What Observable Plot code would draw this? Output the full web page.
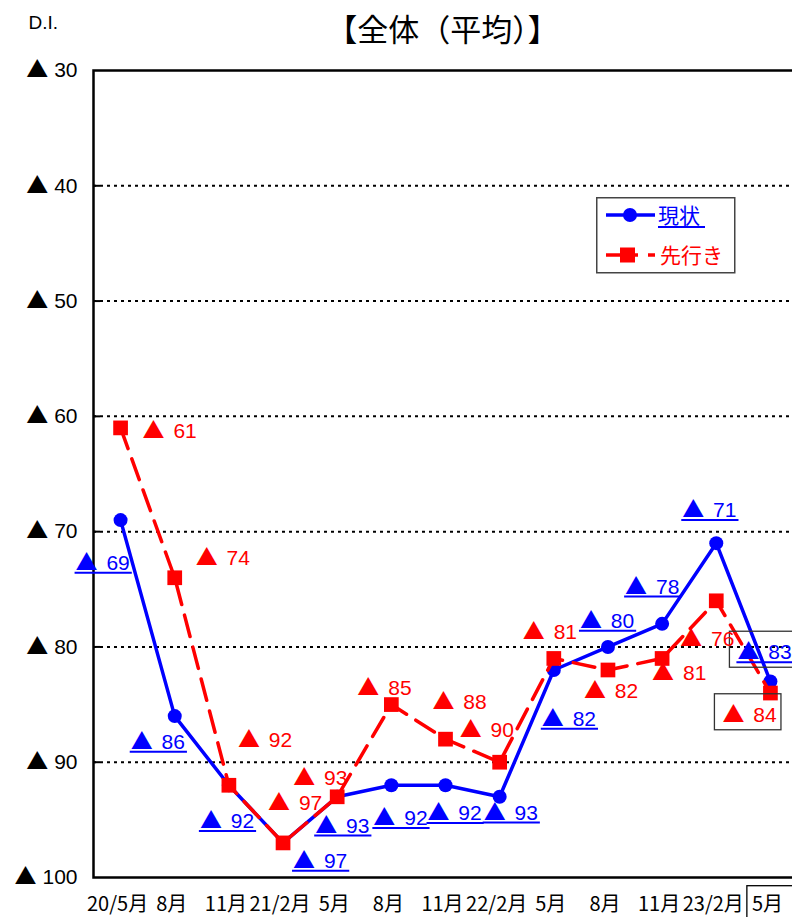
<!DOCTYPE html>
<html><head><meta charset="utf-8">
<script src="https://cdn.jsdelivr.net/npm/d3@7"></script>
<script src="https://cdn.jsdelivr.net/npm/@observablehq/plot@0.6"></script>
<style>
html,body{margin:0;padding:0;background:#fff;overflow:hidden;}
#wrap{position:relative;width:792px;height:917px;overflow:hidden;}
#legend{position:absolute;left:596px;top:197px;}
</style></head><body><div id="wrap"></div>
<script>
// ---- data ----
const categories = ["20/5月","8月","11月","21/2月","5月","8月","11月","22/2月","5月","8月","11月","23/2月","5月"];
const genjo = [69,86,92,97,93,92,92,93,82,80,78,71,83];      // 現状
const sakiyuki = [61,74,92,97,93,85,88,90,81,82,81,76,84];   // 先行き
const yTicks = [30,40,50,60,70,80,90,100];
const gridTicks = [40,50,60,70,80,90];
const title = "【全体（平均）】";
const unitLabel = "D.I.";
const seriesNames = ["現状","先行き"];

// ---- layout (label offsets in px) ----
const genjoDx = [-45,-44,-29,10,-22,-18,-18,-16,-12,-28,-37,-34,-33];
const genjoDy = [43,26,36,18,29,33,28,16,49,-26,-37,-33,-29];
const sakiDx = [22,21,9,-15,-44,-34,-13,-40,-31,-24,-10,-36,-48];
const sakiDy = [3,-19,-45,-40,-19,-16,-37,-32,-26,21,15,38,22];

const BLUE = "#0000ff", RED = "#ff0000";
const LAT = "'Liberation Sans', Arial, sans-serif";
const JP = "'Noto Sans CJK JP', sans-serif";

const data = categories.map((c, i) => ({i, cat: c, genjo: genjo[i], saki: sakiyuki[i]}));

const chart = Plot.plot({
  width: 792, height: 917,
  marginLeft: 93, marginRight: -5, marginTop: 70, marginBottom: 40,
  style: {fontFamily: LAT, background: "white", overflow: "visible"},
  x: {type: "linear", domain: [-0.5, 12.5], axis: null},
  y: {domain: [100, 30], axis: null},
  marks: [
    Plot.ruleY(gridTicks, {stroke: "black", strokeWidth: 2, strokeDasharray: "3,4"}),
    Plot.ruleY(gridTicks, {x1: -0.5, x2: -0.37, stroke: "black", strokeWidth: 2}),
    Plot.axisY({ticks: yTicks, tickSize: 0, tickPadding: 16, tickFormat: d => "▲ " + d, fontSize: 21, fill: "black", label: null}),
    Plot.axisX({ticks: d3.range(categories.length), tickSize: 0, tickPadding: 19, tickFormat: i => categories[i], fontSize: 20, fontFamily: JP, fill: "black", dx: -3, label: null}),
    Plot.frame({stroke: "black", strokeWidth: 2.5}),
    Plot.line(data, {x: "i", y: "genjo", stroke: BLUE, strokeWidth: 3.5}),
    Plot.dot(data, {x: "i", y: "genjo", r: 7, fill: BLUE, symbol: "circle"}),
    Plot.line(data, {x: "i", y: "saki", stroke: RED, strokeWidth: 3.5, strokeDasharray: "22,11"}),
    Plot.dot(data, {x: "i", y: "saki", r: 8.3, fill: RED, symbol: "square"}),
    ...data.map((d, i) => Plot.text([d], {x: "i", y: "genjo", text: e => "▲ " + e.genjo, dx: genjoDx[i], dy: genjoDy[i],
      textAnchor: "start", fill: BLUE, fontSize: 21, ariaDescription: i === data.length - 1 ? "genjo-label boxed" : "genjo-label"})),
    ...data.map((d, i) => Plot.text([d], {x: "i", y: "saki", text: e => "▲ " + e.saki, dx: sakiDx[i], dy: sakiDy[i],
      textAnchor: "start", fill: RED, fontSize: 21, ariaDescription: i === data.length - 1 ? "saki-label boxed" : "saki-label"})),
    Plot.text([title], {frameAnchor: "top", dy: -39, dx: -3, lineAnchor: "middle", fontSize: 31, fontFamily: JP, fontWeight: 400, fill: "black"}),
    Plot.text([unitLabel], {frameAnchor: "top-left", dx: -65, dy: -48, textAnchor: "start", lineAnchor: "middle", fontSize: 19, fill: "black"})
  ]
});
const wrap = document.getElementById("wrap");
wrap.appendChild(chart);

const svg = d3.select(chart);
// full-width triangle glyph
function bigTri(node, size, gap) {
  const t = node.textContent;
  if (!t.startsWith("▲")) return;
  node.textContent = "";
  d3.select(node).append("tspan").attr("font-family", JP).attr("font-size", size).text("▲");
  d3.select(node).append("tspan").attr("dx", gap).text(t.slice(1));
}
svg.selectAll('g[aria-label="y-axis tick label"] text').each(function () { bigTri(this, 22, 0); });
svg.selectAll('g[aria-description~="genjo-label"] text, g[aria-description~="saki-label"] text').each(function () { bigTri(this, 22, 3); });

// underlines for 現状 labels
svg.selectAll('g[aria-description~="genjo-label"] text').each(function () {
  const b = this.getBBox();
  const yy = b.y + b.height - 3;
  d3.select(this.parentNode).append("line")
    .attr("transform", this.getAttribute("transform"))
    .attr("x1", b.x - 1).attr("x2", b.x + b.width + 2)
    .attr("y1", yy).attr("y2", yy)
    .attr("stroke", BLUE).attr("stroke-width", 2);
});
// boxes around last labels
svg.selectAll('g[aria-description~="boxed"] text').each(function () {
  const b = this.getBBox();
  d3.select(this.parentNode).append("rect")
    .attr("transform", this.getAttribute("transform"))
    .attr("x", b.x - 8).attr("y", b.y - 2).attr("width", b.width + 12).attr("height", b.height + 4)
    .attr("fill", "none").attr("stroke", "#333").attr("stroke-width", 1.3);
});
// box around last x tick label
const xt = svg.selectAll('g[aria-label="x-axis tick label"] text').nodes();
if (xt.length) {
  const last = xt[xt.length - 1];
  const b = last.getBBox();
  d3.select(last.parentNode).append("rect")
    .attr("transform", last.getAttribute("transform"))
    .attr("x", b.x - 5).attr("y", b.y - 2).attr("width", b.width + 40).attr("height", b.height + 40)
    .attr("fill", "none").attr("stroke", "black").attr("stroke-width", 1.3);
}

// legend
const lg = d3.select(wrap).append("svg").attr("id", "legend").attr("width", 140).attr("height", 78);
lg.append("rect").attr("x", 0.75).attr("y", 0.75).attr("width", 138).attr("height", 75)
  .attr("fill", "white").attr("stroke", "#444").attr("stroke-width", 1.5);
lg.append("line").attr("x1", 10).attr("x2", 59).attr("y1", 18).attr("y2", 18).attr("stroke", BLUE).attr("stroke-width", 3.5);
lg.append("circle").attr("cx", 34).attr("cy", 18).attr("r", 7).attr("fill", BLUE);
lg.append("text").attr("x", 62).attr("y", 18).attr("dy", "0.36em").attr("fill", BLUE)
  .style("font-family", JP).style("font-size", "21px").text(seriesNames[0]);
lg.append("line").attr("x1", 62).attr("x2", 109).attr("y1", 30).attr("y2", 30).attr("stroke", BLUE).attr("stroke-width", 2);
lg.append("line").attr("x1", 10).attr("x2", 42).attr("y1", 58).attr("y2", 58).attr("stroke", RED).attr("stroke-width", 3.5);
lg.append("rect").attr("x", 24).attr("y", 50.5).attr("width", 15).attr("height", 15).attr("fill", RED);
lg.append("line").attr("x1", 52).attr("x2", 59).attr("y1", 58).attr("y2", 58).attr("stroke", RED).attr("stroke-width", 3.5);
lg.append("text").attr("x", 64).attr("y", 58).attr("dy", "0.36em").attr("fill", RED)
  .style("font-family", JP).style("font-size", "21px").text(seriesNames[1]);
</script></body></html>
